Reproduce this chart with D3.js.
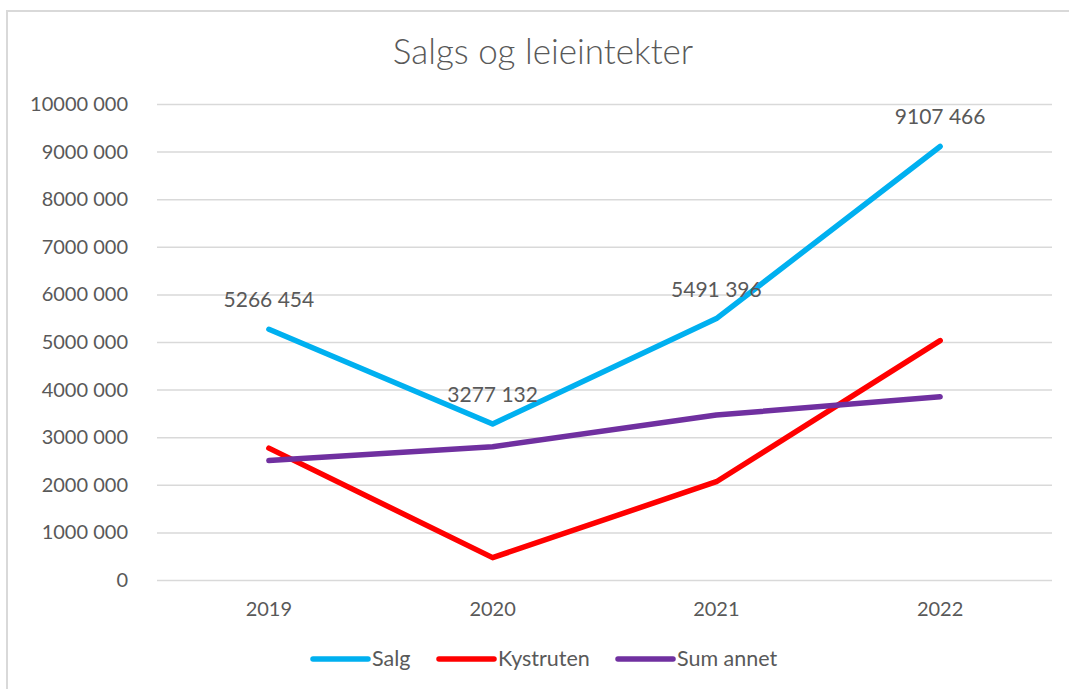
<!DOCTYPE html>
<html>
<head>
<meta charset="utf-8">
<script src="https://cdn.jsdelivr.net/npm/d3@7"></script>
<style>
  html, body { margin: 0; padding: 0; background: #fff; }
  svg text { font-family: Lato, "Open Sans", sans-serif; fill: #595959; }
</style>
</head>
<body>
<svg id="chart" width="1069" height="689"></svg>
<script>
(function() {
    'use strict';

    var years = ['2019', '2020', '2021', '2022'];
    var salg = [5266454, 3277132, 5491396, 9107466];
    var kystruten = [2770000, 470000, 2065000, 5030000];
    var sumAnnet = [2510000, 2800000, 3465000, 3850000];
    var yTicks = [0, 1000000, 2000000, 3000000, 4000000, 5000000, 6000000, 7000000, 8000000, 9000000, 10000000];

    var series = [
        { name: 'Salg', values: salg, color: '#00b0f0' },
        { name: 'Kystruten', values: kystruten, color: '#ff0000' },
        { name: 'Sum annet', values: sumAnnet, color: '#7030a0' }
    ];

    // Space as thousands separator, like the Norwegian Excel format
    function fmt(v) {
        var s = String(Math.round(v));
        return s.length > 3 ? s.slice(0, -3) + ' ' + s.slice(-3) : s;
    }

    var svg = d3.select('#chart');

    // Chart frame
    svg.append('rect')
        .attr('x', 7).attr('y', 11)
        .attr('width', 1200).attr('height', 900)
        .attr('fill', '#fff')
        .attr('stroke', '#d9d9d9')
        .attr('stroke-width', 2);

    svg.append('text')
        .attr('x', 543).attr('y', 64)
        .attr('text-anchor', 'middle')
        .attr('font-size', 35)
        .attr('font-weight', 300)
        .text('Salgs og leieintekter');

    var x = d3.scaleBand().domain(years).range([157, 1052]).padding(0);
    var y = d3.scaleLinear().domain([0, 10000000]).range([580, 104]);
    var cx = function(d, i) { return x(years[i]) + x.bandwidth() / 2; };

    // Gridlines + y labels
    var yAxis = d3.axisLeft(y).tickValues(yTicks).tickFormat(fmt)
        .tickSize(-(1052 - 157)).tickPadding(29);
    var gy = svg.append('g').attr('transform', 'translate(157,0)').call(yAxis);
    gy.select('.domain').remove();
    gy.selectAll('.tick line').attr('stroke', '#d9d9d9').attr('stroke-width', 1.5);
    gy.selectAll('.tick text')
        .attr('font-size', 20)
        .style('font-family', 'Lato, sans-serif')
        .attr('fill', '#595959');

    // X labels
    var xAxis = d3.axisBottom(x).tickSize(0).tickPadding(22);
    var gx = svg.append('g').attr('transform', 'translate(0,580)').call(xAxis);
    gx.select('.domain').remove();
    gx.selectAll('.tick text')
        .attr('font-size', 20)
        .style('font-family', 'Lato, sans-serif')
        .attr('fill', '#595959');

    var line = d3.line()
        .x(cx)
        .y(function(d) { return y(d); });

    series.forEach(function(s) {
        svg.append('path')
            .datum(s.values)
            .attr('d', line)
            .attr('fill', 'none')
            .attr('stroke', s.color)
            .attr('stroke-width', 5.5)
            .attr('stroke-linecap', 'round')
            .attr('stroke-linejoin', 'round');
    });

    // Data labels for Salg
    svg.selectAll('.dlabel')
        .data(salg)
        .join('text')
        .attr('class', 'dlabel')
        .attr('x', cx)
        .attr('y', function(d) { return y(d) - 22; })
        .attr('text-anchor', 'middle')
        .attr('font-size', 21)
        .text(fmt);

    // Legend
    var legendX = [313, 439, 618];
    var legend = svg.selectAll('.legend')
        .data(series)
        .join('g')
        .attr('class', 'legend')
        .attr('transform', function(d, i) { return 'translate(' + legendX[i] + ',659)'; });
    legend.append('line')
        .attr('x1', 0).attr('x2', 55)
        .attr('stroke', function(d) { return d.color; })
        .attr('stroke-width', 5.5)
        .attr('stroke-linecap', 'round');
    legend.append('text')
        .attr('x', 59).attr('y', 7)
        .attr('font-size', 21.5)
        .text(function(d) { return d.name; });
})();
</script>
</body>
</html>
